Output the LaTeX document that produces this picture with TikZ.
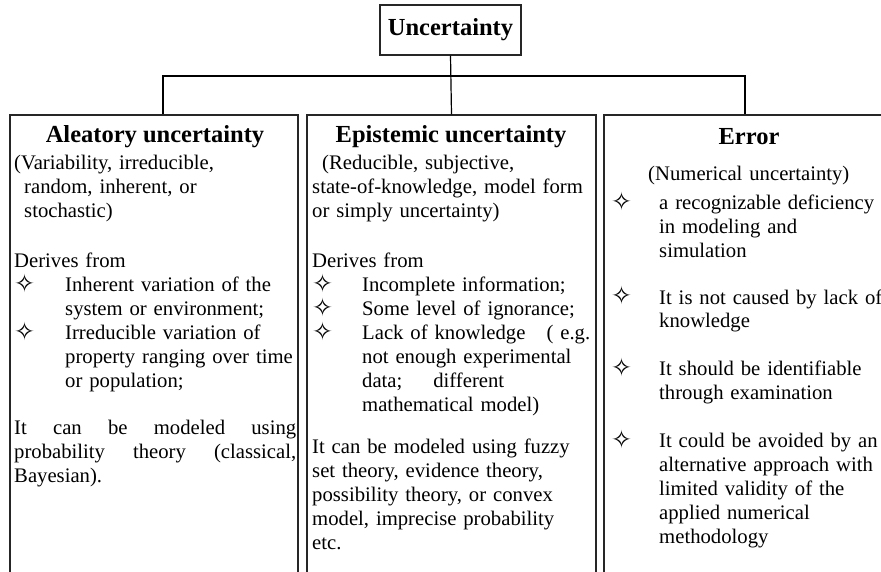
\documentclass[tikz,border=0pt]{standalone}
\usepackage{fontspec}
\setmainfont{Liberation Serif}
\newfontfamily\symfont{DejaVu Sans}
\usetikzlibrary{positioning}

\newcommand{\bodyfont}{\fontsize{20.7}{24}\selectfont}
\newcommand{\headfont}{\bfseries\fontsize{24.5}{28}\selectfont}
\newcommand{\dmd}{{\symfont\fontsize{25}{25}\selectfont ✧}}

\tikzstyle{box}=[draw=black!85, line width=1.3pt, inner sep=0pt]
\tikzstyle{link}=[black, line width=1.2pt, draw]
\tikzstyle{head}=[anchor=base, inner sep=0pt, font=\headfont]
\tikzstyle{txt}=[anchor=base west, inner sep=0pt, align=left, text width=250pt, font=\bodyfont]
\tikzstyle{bul}=[anchor=base west, inner sep=0pt, font=\bodyfont]

\begin{document}
\begin{tikzpicture}[x=1pt, y=-1pt]
  \useasboundingbox (0,0) rectangle (881,572);
  \clip (0,0) rectangle (881,572);

  % boxes
  \node [box, minimum width=141pt, minimum height=50pt, font=\headfont] (unc) at (450.5,30) {Uncertainty};
  \node [box, minimum width=288pt, minimum height=485pt] (alea) at (154,357.5) {};
  \node [box, minimum width=289pt, minimum height=485pt] (epis) at (451.5,357.5) {};
  \node [box, minimum width=282pt, minimum height=485pt] (err) at (745,357.5) {};

  \coordinate (bus) at (450.5,76);
  \draw [link] (unc.south) -- (epis.north);
  \draw [link] ([xshift=9pt]alea.north) |- (bus) -| (err.north);

  % aleatory
  \node [head] (aleahead) at (155,143) {Aleatory uncertainty};
  \node [txt] (aleasyn) at (14,170) {(Variability, irreducible,\\
    \hspace*{10pt}random, inherent, or\\
    \hspace*{10pt}stochastic)};
  \node [txt] (aleader) at (14,267) {Derives from};
  \node [bul] (aleab1) at (14,292) {\dmd};
  \node [txt] (aleat1) at (65,291) {Inherent variation of the\\system or environment;};
  \node [bul] (aleab2) at (14,340) {\dmd};
  \node [txt] (aleat2) at (65,339) {Irreducible variation of\\property ranging over time\\or population;};
  \node [txt, text width=282pt] (aleamod) at (14,434) {\makebox[282pt][l]{It\hfill can\hfill be\hfill modeled\hfill using}\\
    \makebox[282pt][l]{probability\hfill theory\hfill (classical,}\\
    Bayesian).};

  % epistemic
  \node [head] (epishead) at (451,143) {Epistemic uncertainty};
  \node [txt, text width=280pt] (episyn) at (312,170) {\hspace*{10pt}(Reducible, subjective,\\
    state-of-knowledge, model form\\
    or simply uncertainty)};
  \node [txt] (episder) at (312,267) {Derives from};
  \node [bul] (episb1) at (312,292) {\dmd};
  \node [txt] (epist1) at (362,291) {Incomplete information;};
  \node [bul] (episb2) at (312,316) {\dmd};
  \node [txt] (epist2) at (362,315) {Some level of ignorance;};
  \node [bul] (episb3) at (312,340) {\dmd};
  \node [txt] (epist3) at (362,339) {\makebox[228pt][l]{Lack of knowledge\hfill( e.g.}\\
    not enough experimental\\
    data;\hspace{24pt} different\\
    mathematical model)};
  \node [txt, text width=280pt] (epismod) at (312,453) {It can be modeled using fuzzy\\
    set theory, evidence theory,\\
    possibility theory, or convex\\
    model, imprecise probability\\
    etc.};

  % error
  \node [head] (errhead) at (749,145) {Error};
  \node [txt] (errsyn) at (648,181) {(Numerical uncertainty)};
  \node [bul] (errb1) at (611,211) {\dmd};
  \node [txt] (errt1) at (659,210) {a recognizable deficiency\\in modeling and\\simulation};
  \node [bul] (errb2) at (611,305) {\dmd};
  \node [txt] (errt2) at (659,304) {It is not caused by lack of\\knowledge};
  \node [bul] (errb3) at (611,376) {\dmd};
  \node [txt] (errt3) at (659,375) {It should be identifiable\\through examination};
  \node [bul] (errb4) at (611,448) {\dmd};
  \node [txt] (errt4) at (659,447) {It could be avoided by an\\alternative approach with\\limited validity of the\\applied numerical\\methodology};
\end{tikzpicture}
\end{document}
